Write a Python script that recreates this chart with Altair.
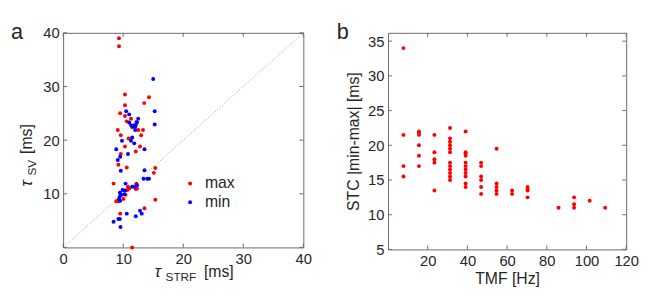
import altair as alt
import pandas as pd

# ---------------- data (panel a) ----------------
max_strf = [9.3, 9.3, 10.3, 14.3, 13.5, 10.3, 9.5, 10.3, 11.3, 10.6, 12.2, 11.5, 9.1, 12.5,
            13.3, 9.6, 13.0, 10.9, 10.3, 12.8, 12.1, 9.6, 9.2, 10.6, 15.35, 15.1, 8.4, 12.2,
            10.8, 11.0, 10.7, 12.1, 12.3, 10.4, 10.05, 8.85, 9.2, 15.35, 13.55, 9.5, 11.5]
max_sv = [39.0, 37.5, 28.5, 28.0, 26.9, 26.5, 25.0, 24.5, 24.0, 23.5, 23.4, 22.4, 21.9, 21.9,
          21.9, 20.9, 20.9, 20.3, 18.8, 18.8, 17.9, 17.4, 15.4, 14.9, 14.8, 13.9, 11.9, 11.9,
          11.3, 11.0, 10.7, 10.9, 11.0, 9.8, 9.05, 8.6, 8.6, 8.9, 7.3, 6.3, 0.0]
min_strf = [15.0, 15.25, 10.5, 11.0, 12.5, 11.0, 11.3, 11.6, 11.9, 12.0, 12.1, 12.3, 15.25, 12.0,
            11.5, 9.8, 11.3, 11.85, 8.85, 13.55, 10.8, 9.5, 9.1, 9.6, 13.55, 13.4, 14.0, 14.3,
            10.4, 12.3, 11.9, 11.5, 9.9, 10.3, 9.45, 9.7, 9.45, 10.2, 9.3, 9.5, 10.6, 12.8,
            13.1, 12.1, 9.2, 9.45, 8.4, 9.56]
min_sv = [31.4, 25.4, 25.4, 24.8, 24.0, 23.3, 22.8, 22.6, 22.8, 22.5, 22.8, 23.3, 22.9, 21.9,
          20.5, 19.9, 19.9, 19.4, 18.3, 18.3, 17.4, 16.9, 16.3, 14.3, 14.4, 12.8, 12.8, 12.8,
          11.9, 11.6, 11.3, 11.3, 10.7, 10.6, 10.2, 9.8, 9.5, 9.9, 9.05, 8.7, 6.3, 6.85,
          6.3, 5.8, 5.3, 5.3, 4.8, 3.8]
series_names = ["max", "min"]
a_xticks = [0, 10, 20, 30, 40]
a_ylabels = [10, 20, 30, 40]
a_yticks = [0, 10, 20, 30, 40]

# ---------------- data (panel b) ----------------
tmf = ([7.8] * 4 + [15.6] * 6 + [23.4] * 5 + [31.25] * 12 + [39.1] * 11 + [46.9] * 6 +
       [54.7] * 5 + [62.5] * 2 + [70.3] * 4 + [85.9] + [93.75] * 3 + [101.6] + [109.4])
stc = ([34.0, 21.5, 17.0, 15.5] +
       [22.0, 21.8, 21.5, 20.0, 18.5, 17.0] +
       [21.5, 19.0, 18.0, 17.5, 13.5] +
       [22.5, 21.0, 20.5, 20.0, 19.5, 19.0, 17.5, 17.0, 16.5, 16.0, 15.5, 15.0] +
       [22.0, 19.0, 18.8, 18.5, 17.5, 17.0, 16.5, 16.0, 15.5, 14.5, 14.0] +
       [17.5, 17.0, 15.5, 15.0, 14.0, 13.0] +
       [19.5, 14.5, 14.0, 13.5, 13.0] +
       [13.5, 13.0] +
       [14.0, 13.7, 13.5, 12.5] +
       [11.0] + [12.5, 11.5, 11.0] + [12.0] + [11.0])
b_xticks = [20, 40, 60, 80, 100, 120]
b_yticks = [5, 10, 15, 20, 25, 30, 35]

FONT = "Liberation Sans"
AX = "#6b6b6b"
TXT = "#262626"
LW, LH = 244, 218
RW, RH = 242, 220
TK = 4

one = pd.DataFrame({"d": [0]})


def txt(text, x, y, size=14, angle=0, baseline="alphabetic", style="normal"):
    return alt.Chart(one).mark_text(
        text=text, font=FONT, fontSize=size, color=TXT, align="left",
        baseline=baseline, angle=angle, fontStyle=style
    ).encode(x=alt.value(x), y=alt.value(y))


def tick_layers(xs, ys, xticks, yticks, ax_x, ax_y, W, H):
    dx = pd.DataFrame({"v": xticks})
    dy = pd.DataFrame({"v": yticks})
    r = dict(color=AX, strokeWidth=1)
    xe = alt.X("v:Q", scale=xs, axis=ax_x)
    ye = alt.Y("v:Q", scale=ys, axis=ax_y)
    return [
        alt.Chart(dx).mark_rule(**r).encode(x=xe, y=alt.value(H), y2=alt.value(H - TK)),
        alt.Chart(dx).mark_rule(**r).encode(x=xe, y=alt.value(0), y2=alt.value(TK)),
        alt.Chart(dy).mark_rule(**r).encode(y=ye, x=alt.value(0), x2=alt.value(TK)),
        alt.Chart(dy).mark_rule(**r).encode(y=ye, x=alt.value(W), x2=alt.value(W - TK)),
    ]


AXOPT = dict(ticks=False, tickSize=0, labelPadding=4, grid=False, labelFlush=False,
             labelOverlap=False)

# ---------------- panel a ----------------
df_a = pd.DataFrame({
    "strf": max_strf + min_strf,
    "sv": max_sv + min_sv,
    "type": [series_names[0]] * len(max_strf) + [series_names[1]] * len(min_strf),
})
diag = pd.DataFrame({"x": [a_xticks[0], a_xticks[-1]], "y": [a_yticks[0], a_yticks[-1]]})

xs_a = alt.Scale(domain=[0, 40], nice=False, zero=False)
ys_a = alt.Scale(domain=[0, 40], nice=False, zero=False)
ax_xa = alt.Axis(values=a_xticks, title=None, **AXOPT)
ax_ya = alt.Axis(values=a_ylabels, title=None, **AXOPT)

diag_line = alt.Chart(diag).mark_line(color="#8a8a8a", strokeDash=[1, 2], strokeWidth=0.9).encode(
    x=alt.X("x:Q", scale=xs_a, axis=ax_xa), y=alt.Y("y:Q", scale=ys_a, axis=ax_ya))
pts_a = alt.Chart(df_a).mark_circle(size=16, opacity=1).encode(
    x=alt.X("strf:Q", scale=xs_a, axis=ax_xa),
    y=alt.Y("sv:Q", scale=ys_a, axis=ax_ya),
    color=alt.Color("type:N",
                    scale=alt.Scale(domain=series_names, range=["#ff0000", "#0000ff"]),
                    legend=alt.Legend(title=None, orient="none", legendX=121, legendY=145,
                                      symbolType="circle", symbolSize=16, labelFont=FONT,
                                      labelFontSize=16, labelColor=TXT, labelOffset=7,
                                      rowPadding=3, padding=0)),
)

left = alt.layer(
    diag_line, pts_a,
    *tick_layers(xs_a, ys_a, a_xticks, a_yticks, ax_xa, ax_ya, LW, LH),
    txt("a", -53, -11, size=22, baseline="top"),
    txt("τ", 93, 248, size=17, style="italic"),
    txt("STRF", 104, 252, size=12),
    txt("[ms]", 143, 248, size=16),
    txt("τ", -32, 156, size=17, angle=270, style="italic"),
    txt("SV", -28, 145, size=12, angle=270),
    txt("[ms]", -32, 123, size=16, angle=270),
).properties(width=LW, height=LH)

# ---------------- panel b ----------------
df_b = pd.DataFrame({"tmf": tmf, "stc": stc})
xs_b = alt.Scale(domain=[0, 120], nice=False, zero=False)
ys_b = alt.Scale(domain=[5, 36.2], nice=False, zero=False)
ax_xb = alt.Axis(values=b_xticks, title="TMF [Hz]", titlePadding=3, **AXOPT)
ax_yb = alt.Axis(values=b_yticks, title="STC |min-max| [ms]", titlePadding=6, **AXOPT)

pts_b = alt.Chart(df_b).mark_circle(size=16, opacity=1, color="#ff0000").encode(
    x=alt.X("tmf:Q", scale=xs_b, axis=ax_xb),
    y=alt.Y("stc:Q", scale=ys_b, axis=ax_yb),
)
right = alt.layer(
    pts_b,
    *tick_layers(xs_b, ys_b, b_xticks, b_yticks, ax_xb, ax_yb, RW, RH),
    txt("b", -52, -11, size=22, baseline="top"),
).properties(width=RW, height=RH)

chart = alt.hconcat(left, right, spacing=86, bounds="flush").resolve_legend(
    color="independent"
).properties(
    padding={"left": 2, "top": 10, "right": 0, "bottom": 0},
    background="white",
).configure_view(stroke=AX, strokeWidth=1).configure_axis(
    domain=False, labelFont=FONT, labelFontSize=15, labelColor=TXT,
    titleFont=FONT, titleFontSize=16, titleColor=TXT, titleFontWeight="normal",
)

chart.save("out.html", embed_options={"renderer": "svg", "actions": False})
